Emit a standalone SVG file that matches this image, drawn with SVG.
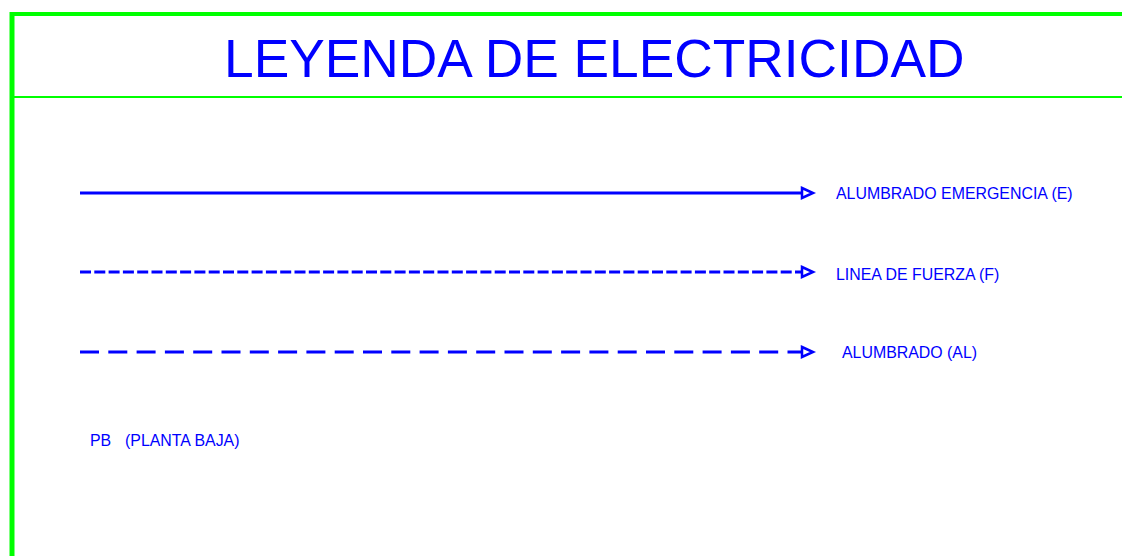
<svg xmlns="http://www.w3.org/2000/svg" width="1122" height="556" viewBox="0 0 1122 556">
  <style>
    .frame { stroke: #00FF00; fill: none; }
    .wire { stroke: #0000FF; stroke-width: 3; fill: none; }
    .label { font-family: "Liberation Sans", Arial, sans-serif; font-size: 15.9px; fill: #0000FF; }
    .title { font-family: "Liberation Sans", Arial, sans-serif; font-size: 53.3px; fill: #0000FF; }
  </style>
  <defs>
    <marker id="arrow" markerUnits="userSpaceOnUse" markerWidth="16" markerHeight="14" refX="1" refY="7" orient="auto" overflow="visible">
      <path d="M1,2 L12,7 L1,12 Z" fill="#FFFFFF" stroke="#0000FF" stroke-width="2.5" stroke-linejoin="miter"/>
    </marker>
  </defs>
  <rect width="1122" height="556" fill="#FFFFFF"/>
  <g id="frame">
    <line class="frame" x1="10" y1="14" x2="1122" y2="14" stroke-width="4"/>
    <line class="frame" x1="12" y1="12" x2="12" y2="556" stroke-width="5"/>
    <line class="frame" x1="12" y1="97" x2="1122" y2="97" stroke-width="2"/>
  </g>
  <g id="title">
    <text class="title" x="224" y="77">LEYENDA DE ELECTRICIDAD</text>
  </g>
  <g id="connectors">
    <line class="wire" x1="80" y1="193" x2="802" y2="193" marker-end="url(#arrow)"/>
    <line class="wire" x1="80" y1="272" x2="802" y2="272" stroke-dasharray="11 3.3" marker-end="url(#arrow)"/>
    <line class="wire" x1="80" y1="352" x2="802" y2="352" stroke-dasharray="19 9.3" marker-end="url(#arrow)"/>
  </g>
  <g id="legend-emergencia">
    <text class="label" x="836" y="199">ALUMBRADO EMERGENCIA (E)</text>
  </g>
  <g id="legend-fuerza">
    <text class="label" x="836" y="280">LINEA DE FUERZA (F)</text>
  </g>
  <g id="legend-alumbrado">
    <text class="label" x="842" y="358">ALUMBRADO (AL)</text>
  </g>
  <g id="legend-pb">
    <text class="label" x="90" y="446">PB<tspan x="125">(PLANTA BAJA)</tspan></text>
  </g>
</svg>
